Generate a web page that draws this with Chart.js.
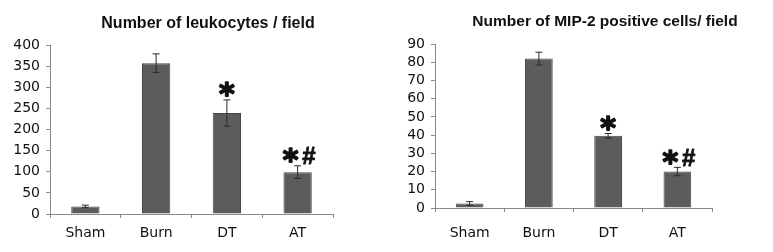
<!DOCTYPE html>
<html>
<head>
<meta charset="utf-8">
<script src="https://cdn.jsdelivr.net/npm/chart.js@4.4.0/dist/chart.umd.min.js"></script>
<style>
  html, body { margin: 0; padding: 0; background: #fff; }
  #wrap { position: relative; width: 773px; height: 252px; overflow: hidden; }
  .panel { position: absolute; top: 0; }
</style>
</head>
<body>
<div id="wrap">
  <div class="panel" style="left:0px"><canvas id="leukChart" width="390" height="252"></canvas></div>
  <div class="panel" style="left:390px"><canvas id="mipChart" width="383" height="252"></canvas></div>
</div>
<script>
// Data
const groups = ['Sham', 'Burn', 'DT', 'AT'];
const leukocytes = [18, 357, 239, 99];
const leukocytesErr = [3, 22, 31, 15];
const leukTicks = [0, 50, 100, 150, 200, 250, 300, 350, 400];
const mip2Cells = [2.5, 82, 39.6, 20];
const mip2Err = [1, 3.5, 1.3, 2.3];
const mipTicks = [0, 10, 20, 30, 40, 50, 60, 70, 80, 90];
const significance = ['', '', '*', '*#'];

const axisGrey = '#8a8a8a';
const barFill = '#5c5c5c';
const titleFont = '"Liberation Sans", Arial, sans-serif';
const tickFont = '"DejaVu Sans", sans-serif';

// draw one glyph centred at cx with its ink bottom at bottomY (stroked a bit to look heavier)
function drawGlyph(ctx, ch, font, cx, bottomY, heavy) {
    ctx.font = font;
    ctx.textAlign = 'left';
    ctx.textBaseline = 'alphabetic';
    const m = ctx.measureText(ch);
    const inkW = m.actualBoundingBoxLeft + m.actualBoundingBoxRight;
    const x = cx - inkW / 2 + m.actualBoundingBoxLeft;
    const y = bottomY - m.actualBoundingBoxDescent - heavy / 2;
    ctx.fillText(ch, x, y);
    if (heavy > 0) {
        ctx.lineWidth = heavy;
        ctx.lineJoin = 'round';
        ctx.strokeStyle = ctx.fillStyle;
        ctx.strokeText(ch, x, y);
    }
    return m.actualBoundingBoxAscent + m.actualBoundingBoxDescent + heavy;
}

// Error bars + significance marks
const errorBarPlugin = {
    id: 'errorBars',
    afterDatasetsDraw(chart, args, opts) {
        const ctx = chart.ctx;
        const meta = chart.getDatasetMeta(0);
        const yScale = chart.scales.y;
        const values = chart.data.datasets[0].data;
        const starFont = 'bold 30px "DejaVu Sans", sans-serif';
        const hashFont = 'bold 24px "Liberation Sans", Arial, sans-serif';
        ctx.save();
        meta.data.forEach((bar, i) => {
            const x = bar.x;
            const yTop = yScale.getPixelForValue(values[i] + opts.errors[i]);
            const yBot = yScale.getPixelForValue(values[i] - opts.errors[i]);
            ctx.strokeStyle = '#2a2a2a';
            ctx.lineWidth = 1;
            ctx.beginPath();
            ctx.moveTo(x, yTop); ctx.lineTo(x, yBot);
            ctx.moveTo(x - 3.5, yTop); ctx.lineTo(x + 3.5, yTop);
            ctx.moveTo(x - 3.5, yBot); ctx.lineTo(x + 3.5, yBot);
            ctx.stroke();
            ctx.fillStyle = '#111';
            if (opts.marks[i] === '*') {
                drawGlyph(ctx, '*', starFont, x, yTop - 2, 1.6);
            } else if (opts.marks[i] === '*#') {
                const hashH = drawGlyph(ctx, '#', hashFont, x + 11, yTop - 1, 0.8);
                ctx.font = starFont;
                const sm = ctx.measureText('*');
                const starH = sm.actualBoundingBoxAscent + sm.actualBoundingBoxDescent + 1.6;
                drawGlyph(ctx, '*', starFont, x - 7, yTop - 1 - (hashH - starH) / 2, 1.6);
            }
        });
        ctx.restore();
    }
};

// Panel title placed over the plot
const panelTitlePlugin = {
    id: 'panelTitle',
    afterDraw(chart, args, opts) {
        const ctx = chart.ctx;
        ctx.save();
        ctx.fillStyle = '#111';
        ctx.font = 'bold ' + opts.size + 'px ' + titleFont;
        ctx.textAlign = 'center';
        ctx.textBaseline = 'middle';
        ctx.fillText(opts.text, opts.x, opts.y);
        ctx.restore();
    }
};

function makeChart(canvasId, values, errors, ticks, maxVal, cfg) {
    const ctx = document.getElementById(canvasId).getContext('2d');
    return new Chart(ctx, {
        type: 'bar',
        data: {
            labels: groups,
            datasets: [{
                data: values,
                backgroundColor: barFill,
                borderColor: '#474747',
                borderWidth: 1,
                categoryPercentage: 1.0,
                barPercentage: 0.4
            }]
        },
        options: {
            responsive: false,
            animation: false,
            devicePixelRatio: 1,
            layout: { padding: { left: 0, right: cfg.padRight, top: cfg.padTop, bottom: 0 } },
            plugins: {
                legend: { display: false },
                tooltip: { enabled: false },
                errorBars: { errors: errors, marks: significance },
                panelTitle: { text: cfg.title, x: cfg.titleX, y: cfg.titleY, size: cfg.titleSize }
            },
            scales: {
                x: {
                    afterFit: (scale) => { scale.height = cfg.xHeight; },
                    border: { color: axisGrey, width: 1 },
                    grid: { display: true, drawOnChartArea: false, color: axisGrey, tickLength: 4, offset: true },
                    ticks: { color: '#111', padding: cfg.xPad, font: { family: tickFont, size: 14 } }
                },
                y: {
                    min: 0,
                    max: maxVal,
                    afterFit: (scale) => { scale.width = cfg.yWidth; },
                    afterBuildTicks: (scale) => { scale.ticks = ticks.map(v => ({ value: v })); },
                    border: { color: axisGrey, width: 1 },
                    grid: { display: true, drawOnChartArea: false, color: axisGrey, tickLength: 4 },
                    ticks: { color: '#111', padding: 6, autoSkip: false, font: { family: tickFont, size: cfg.yFont } }
                }
            }
        },
        plugins: [errorBarPlugin, panelTitlePlugin]
    });
}

makeChart('leukChart', leukocytes, leukocytesErr, leukTicks, 400, {
    title: 'Number of leukocytes / field', titleX: 208, titleY: 24, titleSize: 16,
    padRight: 57, padTop: 45, xHeight: 38, yWidth: 50, yFont: 14, xPad: 7
});

makeChart('mipChart', mip2Cells, mip2Err, mipTicks, 90, {
    title: 'Number of MIP-2 positive cells/ field', titleX: 215, titleY: 22, titleSize: 15.5,
    padRight: 61, padTop: 44, xHeight: 44, yWidth: 45, yFont: 14, xPad: 13
});
</script>
</body>
</html>
